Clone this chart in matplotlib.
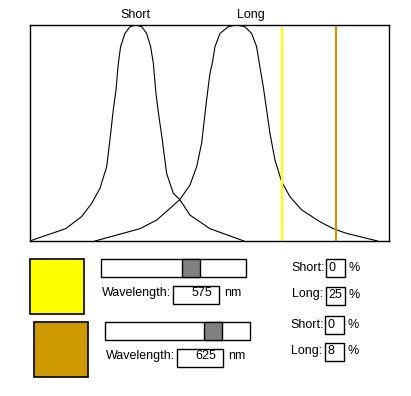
import matplotlib
matplotlib.use("Agg")
import matplotlib.pyplot as plt
from matplotlib.patches import Rectangle

plt.rcParams['font.family'] = ['Liberation Sans', 'DejaVu Sans']
plt.rcParams['font.size'] = 9

# cone sensitivity curves (wavelength nm, percent of peak)
short_nm = [341.4, 374.7, 389.5, 398.8, 406.5, 412.7, 415.7, 418.8, 421.3, 423.5, 425.6,
            429.6, 434.3, 439.8, 445.1, 449.7, 453.4, 455.9, 458.3, 461.1, 464.2, 468.2,
            474.4, 480.6, 489.8, 508.3, 539.8]
short_pct = [0, 5.7, 11.3, 17.4, 24.4, 34.4, 46.8, 60.6, 69.9, 82.3, 90.0,
             96.1, 99.2, 100, 99.2, 96.1, 90.0, 82.3, 68.4, 57.6, 46.8, 31.3,
             22.1, 19.0, 12.0, 5.7, 0]
long_nm = [401.9, 443.5, 459.0, 471.3, 480.6, 489.8, 496.0, 500.6, 505.2, 508.3, 510.5,
           513.0, 517.6, 525.3, 532.7, 540.7, 546.9, 551.5, 554.0, 557.7, 560.8, 563.9,
           568.5, 574.7, 582.4, 593.2, 610.2, 622.5, 634.9, 647.2, 663.6]
long_pct = [0, 5.7, 9.7, 15.1, 19.3, 25.9, 34.4, 45.2, 65.3, 77.6, 82.3,
            90.0, 96.1, 99.2, 100, 99.2, 96.1, 90.0, 82.3, 71.4, 60.6, 49.8,
            37.5, 27.5, 20.5, 14.4, 8.9, 5.7, 3.5, 2.0, 0]

curve_labels = ["Short", "Long"]
label_nm = [439, 546]

# selected lights
wavelengths = [575, 625]
light_colors = ["#FFFF00", "#CC9900"]
short_read = [0, 0]
long_read = [25, 8]
slider_min, slider_max = 350, 700

fig = plt.figure(figsize=(4.11, 3.96), dpi=100)
W, H = 411, 396

# main plot box in pixels
x0, x1, y0, y1 = 29.67, 389.33, 25, 241
ax = fig.add_axes([x0 / W, 1 - y1 / H, (x1 - x0) / W, (y1 - y0) / H])
ax.plot(short_nm, short_pct, color="black", lw=0.8)
ax.plot(long_nm, long_pct, color="black", lw=0.8)
for wl, c in zip(wavelengths, light_colors):
    ax.axvline(wl, color=c, lw=1.6)
ax.set_xlim(341.4, 674.4)
ax.set_ylim(0, 100)
ax.set_xticks([])
ax.set_yticks([])
for s in ax.spines.values():
    s.set_linewidth(1.0)
for lab, xn in zip(curve_labels, label_nm):
    ax.annotate(lab, (xn, 1.031), xycoords=('data', 'axes fraction'),
                ha='center', va='baseline')

# widget area drawn in pixel coordinates
ov = fig.add_axes([0, 0, 1, 1])
ov.set_xlim(0, W)
ov.set_ylim(H, 0)
ov.axis('off')

row_dx = [0, 4]
row_dy = [0, 63]
right_dx = [0, -1]
right_dy = [0, 56.5]
for i in range(len(wavelengths)):
    dx, dy = row_dx[i], row_dy[i]
    # colour swatch
    ov.add_patch(Rectangle((29.5 + dx, 259 + dy), 54, 54.5, facecolor=light_colors[i],
                           edgecolor="black", lw=1.2))
    # slider
    sx, sw = 101.3 + dx, 144.2
    ov.add_patch(Rectangle((sx, 259 + dy), sw, 18.3, facecolor="white",
                           edgecolor="black", lw=1.0))
    frac = (wavelengths[i] - slider_min) / (slider_max - slider_min)
    tw = 18
    ov.add_patch(Rectangle((sx + frac * (sw - tw), 259 + dy), tw, 18.3,
                           facecolor="#808080", edgecolor="black", lw=1.0))
    # wavelength readout
    ov.text(101.5 + dx, 296 + dy, "Wavelength:", ha='left', va='baseline')
    ov.add_patch(Rectangle((173.3 + dx, 286 + dy), 45.4, 18.4, facecolor="white",
                           edgecolor="black", lw=1.0))
    ov.text(212.5 + dx, 296 + dy, str(wavelengths[i]), ha='right', va='baseline')
    ov.text(224.5 + dx, 296 + dy, "nm", ha='left', va='baseline')

    # cone responses
    rx, ry = right_dx[i], right_dy[i]
    for lab, val, by, bt in [("Short:", short_read[i], 271, 259.3),
                             ("Long:", long_read[i], 297.5, 286.7)]:
        ov.text(291.7 + rx, by + ry, lab, ha='left', va='baseline')
        ov.add_patch(Rectangle((326.3 + rx, bt + ry), 18.4, 18, facecolor="white",
                               edgecolor="black", lw=1.0))
        ov.text(328.5 + rx, by + ry, str(val), ha='left', va='baseline')
        ov.text(348.5 + rx, by + ry, "%", ha='left', va='baseline')

fig.savefig("out.png", dpi=100)
